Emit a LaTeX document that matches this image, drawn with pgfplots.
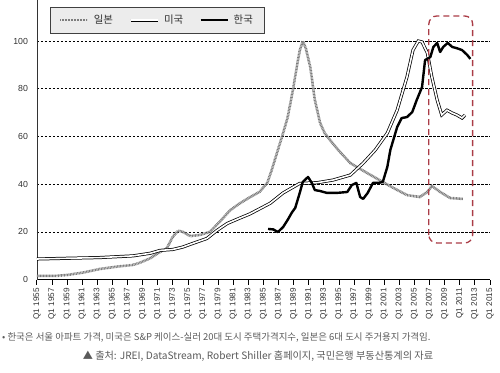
\documentclass[border=0pt]{standalone}
\usepackage{pgfplots}
\pgfplotsset{compat=1.18}
\usepackage{fontspec}
\setmainfont{Liberation Sans}
\newfontfamily\kr{Noto Sans CJK KR}
\definecolor{japan}{RGB}{125,125,125}
\definecolor{boxred}{RGB}{170,60,70}
\definecolor{legfill}{RGB}{236,236,236}
\definecolor{txt}{RGB}{50,50,50}
\definecolor{note}{RGB}{90,90,90}
\begin{document}
\begin{tikzpicture}
\path[use as bounding box] (-37bp,-93.5bp) rectangle (463bp,279.5bp);
\begin{axis}[
  at={(0,0)}, anchor=south west,
  scale only axis, width=453bp, height=279.5bp,
  xmin=1955, xmax=2015, ymin=0, ymax=117.2,
  axis x line=bottom, axis y line=left,
  x axis line style={-, line width=1.2bp, black},
  y axis line style={-, line width=0.8bp, black!80},
  xtick={1955,1957,...,2015},
  xticklabels={Q1 1955,Q1 1957,Q1 1959,Q1 1961,Q1 1963,Q1 1965,Q1 1967,Q1 1969,Q1 1971,Q1 1973,Q1 1975,Q1 1977,Q1 1979,Q1 1981,Q1 1983,Q1 1985,Q1 1987,Q1 1989,Q1 1991,Q1 1993,Q1 1995,Q1 1997,Q1 1999,Q1 2001,Q1 2003,Q1 2005,Q1 2007,Q1 2009,Q1 2011,Q1 2013,Q1 2015},
  x tick label style={rotate=90, anchor=east, font=\fontsize{8.2}{9}\selectfont, text=txt},
  xtick align=outside,
  x tick style={line width=1bp, black},
  major tick length=5bp,
  ytick={0,20,40,60,80,100},
  y tick label style={font=\fontsize{8.8}{9}\selectfont, text=txt, xshift=-3bp},
  ytick style={draw=none},
  /pgf/number format/assume math mode=true,
  ymajorgrids,
  major grid style={black, line width=0.6bp, dash pattern=on 2.5bp off 1.5bp},
  legend columns=3,
  legend style={at={(axis cs:1956.7,114.4)}, anchor=north west,
    fill=legfill, draw=black!75, line width=0.7bp,
    font=\kr\fontsize{10.5}{11}\selectfont, text=txt,
    inner xsep=9bp, inner ysep=6bp,
    /tikz/every odd column/.append style={column sep=3bp},
    /tikz/every even column/.append style={column sep=14bp},
    cells={anchor=west}},
  legend image code/.code={\draw[#1] (0bp,0bp) -- (27bp,0bp);},
]
% Japan
\addplot[japan, line width=2.6bp, dash pattern=on 0.9bp off 0.6bp] coordinates {
(1955.0,1.5)(1957.5,1.5)(1959.0,1.9)(1961.1,2.9)(1963.3,4.4)(1965.6,5.4)(1967.7,6.1)(1968.6,7.0)(1970.0,8.9)(1971.0,11.0)(1972.2,13.1)(1973.0,18.0)(1973.7,20.5)(1974.3,20.0)(1975.3,18.2)(1976.6,18.7)(1977.9,20.0)(1979.2,24.2)(1980.6,29.1)(1981.9,32.0)(1983.2,34.5)(1984.5,36.8)(1985.5,40.5)(1986.1,46.0)(1986.9,54.3)(1987.6,61.4)(1988.2,68.0)(1988.9,79.5)(1989.4,89.0)(1989.8,96.0)(1990.2,100.0)(1990.6,97.0)(1991.2,89.0)(1991.8,75.3)(1992.5,65.6)(1993.1,61.4)(1993.8,58.5)(1994.9,54.3)(1996.5,48.8)(1998.7,44.7)(2000.8,40.9)(2002.2,38.4)(2004.0,35.4)(2005.7,34.6)(2006.7,36.7)(2007.3,39.2)(2008.4,36.7)(2009.7,34.2)(2011.4,33.8)
};
\addlegendentry{일본}
% USA
\addplot[black, line width=0.75bp, double=white, double distance=1.6bp] coordinates {
(1955.0,8.6)(1959.0,8.9)(1963.3,9.2)(1967.7,9.9)(1970.0,11.0)(1971.3,12.2)(1973.0,12.6)(1974.3,13.6)(1975.7,15.2)(1977.5,17.2)(1978.8,20.5)(1980.2,23.5)(1981.9,25.8)(1983.2,27.5)(1985.9,32.0)(1987.6,36.3)(1989.8,40.3)(1992.1,40.6)(1994.2,41.7)(1996.5,43.8)(1998.2,48.8)(1999.8,54.3)(2001.4,61.4)(2002.7,71.0)(2004.0,84.9)(2004.8,96.2)(2005.5,100.0)(2006.0,99.6)(2006.7,95.0)(2007.3,84.9)(2008.0,75.3)(2008.6,69.0)(2009.3,71.0)(2010.0,69.8)(2010.6,69.0)(2011.3,67.7)(2011.7,69.0)
};
\addlegendentry{미국}
% Korea
\addplot[black, line width=2.4bp, line join=round] coordinates {
(1985.6,21.2)(1986.3,21.0)(1986.9,19.9)(1987.6,22.0)(1988.2,25.0)(1988.8,28.3)(1989.2,30.0)(1989.8,36.3)(1990.2,40.9)(1990.9,43.0)(1991.4,40.5)(1991.8,37.5)(1992.5,37.1)(1993.4,36.3)(1994.7,36.3)(1996.1,36.7)(1996.7,39.6)(1997.3,40.5)(1997.8,34.6)(1998.2,33.8)(1998.8,36.3)(1999.5,40.5)(2000.4,40.6)(2000.8,40.9)(2001.4,47.2)(2001.8,54.3)(2002.7,63.9)(2003.3,67.7)(2004.0,68.1)(2004.7,70.2)(2005.3,75.3)(2006.0,80.7)(2006.4,92.0)(2007.1,93.3)(2007.5,97.5)(2008.0,99.2)(2008.4,95.4)(2008.8,97.5)(2009.4,99.2)(2010.0,97.5)(2010.6,97.0)(2011.3,96.2)(2012.0,94.1)(2012.4,92.5)
};
\addlegendentry{한국}
\draw[boxred, line width=1.3bp, dash pattern=on 6bp off 4bp, rounded corners=8bp]
  (axis cs:2006.9,15.3) rectangle (axis cs:2012.7,110.5);
\end{axis}
\node[anchor=west, text=note, font=\kr\fontsize{9.5}{10}\selectfont, inner sep=0pt] at (-35bp,-57.5bp)
  {• 한국은 서울 아파트 가격, 미국은 S\&P 케이스-실러 20대 도시 주택가격지수, 일본은 6대 도시 주거용지 가격임.};
\node[anchor=center, text=note, font=\kr\fontsize{10.2}{11}\selectfont, inner sep=0pt] at (221bp,-76.5bp)
  {▲ 출처: JREI, DataStream, Robert Shiller 홈페이지, 국민은행 부동산통계의 자료};
\end{tikzpicture}
\end{document}
